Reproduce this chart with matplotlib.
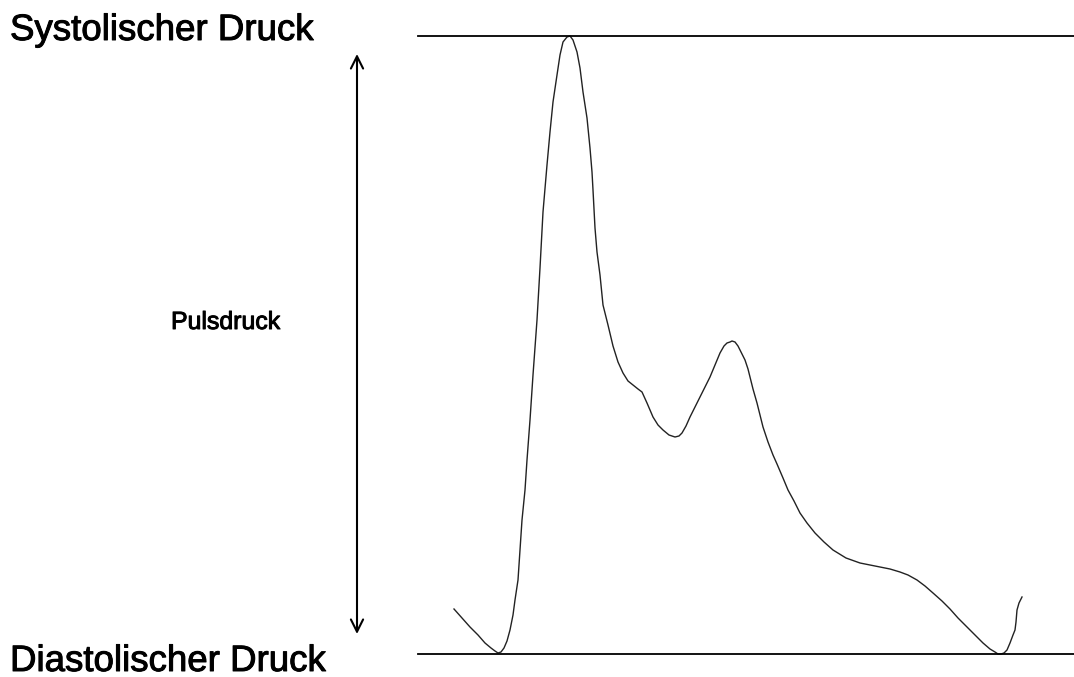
import matplotlib
matplotlib.use("Agg")
import matplotlib.pyplot as plt
import matplotlib.patheffects as pe

# pulse wave, traced in picture coordinates (x right, y down)
wave_x = [454, 462, 470, 478, 485, 491, 495, 498, 501, 504, 507, 510, 513, 515,
          518, 520, 522, 525, 527, 530, 533, 537, 540, 543, 547, 550, 553, 557,
          560, 563, 567, 570, 573, 577, 580, 583, 587, 590, 592, 593, 595, 597,
          600, 603, 608, 613, 618, 623, 628, 633, 638, 642, 647, 653, 658, 663,
          669, 675, 679, 682, 686, 690, 695, 700, 705, 710, 715, 720, 724, 727,
          730, 732, 735, 738, 742, 745, 748, 750, 753, 757, 760, 763, 768, 773,
          777, 783, 788, 794, 800, 807, 815, 824, 833, 846, 860, 870, 880, 890,
          900, 908, 917, 925, 933, 942, 950, 958, 967, 975, 983, 990, 995, 998,
          1001, 1004, 1007, 1010, 1013, 1015, 1016, 1017, 1019, 1022]
wave_y = [609, 618, 627, 635, 643, 648, 651, 653, 652, 648, 641, 630, 615, 600,
          580, 550, 520, 490, 460, 420, 375, 320, 268, 212, 165, 132, 102, 75,
          55, 42, 37, 36, 40, 52, 68, 92, 118, 148, 172, 190, 228, 252,
          275, 305, 325, 346, 362, 373, 381, 385, 389, 392, 403, 417, 425, 430,
          435, 437, 436, 433, 426, 417, 407, 397, 387, 377, 365, 353, 346, 343,
          342, 341, 342, 346, 354, 360, 369, 377, 389, 403, 415, 427, 442, 455,
          464, 478, 490, 501, 513, 523, 533, 542, 550, 558, 563, 565, 567, 569,
          572, 575, 580, 586, 593, 601, 609, 618, 627, 635, 643, 649, 652, 654,
          654, 653, 650, 643, 635, 630, 622, 610, 603, 597]

systolic = 36
diastolic = 654
labels = ["Systolischer Druck", "Diastolischer Druck", "Pulsdruck"]

fig = plt.figure(figsize=(10.74, 6.77), dpi=100)
ax = fig.add_axes([0, 0, 1, 1])
ax.set_xlim(0, 1074)
ax.set_ylim(677, 0)
ax.axis("off")

ax.plot(wave_x, wave_y, color="#222222", lw=1.0, solid_joinstyle="round")
ax.plot([418, 1074], [systolic, systolic], color="black", lw=1.3)
ax.plot([418, 1074], [diastolic, diastolic], color="black", lw=1.3)

ax.annotate("", xy=(357, 54), xytext=(357, 634),
            arrowprops=dict(arrowstyle="<->", color="black", lw=1.5,
                            mutation_scale=22, shrinkA=0, shrinkB=0))

font = "Liberation Sans"
heavy = [pe.withStroke(linewidth=0.7, foreground="black")]
ax.text(10, 40, labels[0], fontsize=26.4, family=font, va="baseline", ha="left",
        path_effects=heavy)
ax.text(10, 671, labels[1], fontsize=26.4, family=font, va="baseline", ha="left",
        path_effects=heavy)
ax.text(171, 329, labels[2], fontsize=17.9, family=font, va="baseline", ha="left",
        path_effects=heavy)

fig.savefig("out.png", dpi=100)
